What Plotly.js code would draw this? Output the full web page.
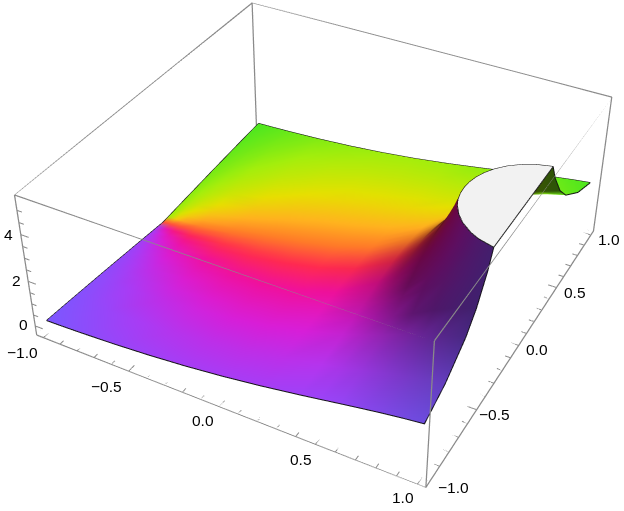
<!DOCTYPE html>
<html><head><meta charset="utf-8">
<script src="https://cdn.plot.ly/plotly-3.0.1.min.js"></script>
<style>html,body{margin:0;padding:0;background:#fff;overflow:hidden;width:624px;height:511px}#w{position:absolute;left:0;top:0;width:624px;height:511px;overflow:hidden}#p{position:absolute;left:-372px;top:-380.5px;width:1400px;height:1189px}</style></head>
<body><div id="w"><div id="p"></div></div>
<script>
const yPos=[0,0.05,0.1,0.15,0.2,0.25,0.3,0.325,0.35,0.4,0.5,0.6,0.8,1];
const xCommon=[-1,-0.95,-0.9,-0.8,-0.6,-0.4,-0.2,0,0.2,0.4,0.5,0.6];
const xTail=[
[0.627,0.653,0.68,0.706],
[0.627,0.655,0.682,0.7095],
[0.63,0.66,0.69,0.72],
[0.635,0.67,0.704,0.739],
[0.642,0.684,0.726,0.7675],
[0.652,0.704,0.757,0.809],
[0.668,0.736,0.803,0.871],
[0.679,0.759,0.838,0.9175],
[0.7,0.8,0.9,1],[0.7,0.8,0.9,1],[0.7,0.8,0.9,1],[0.7,0.8,0.9,1],[0.7,0.8,0.9,1],[0.7,0.8,0.9,1]];
const height=[
[0,0.026,0.053,0.111,0.25,0.429,0.667,1,1.5,2.333,3,4,4.355,4.764,5.24,5.8],
[0.025,0.036,0.059,0.115,0.252,0.43,0.667,1,1.498,2.327,2.987,3.971,4.326,4.75,5.228,5.8],
[0.05,0.057,0.074,0.124,0.257,0.433,0.67,1,1.494,2.307,2.948,3.888,4.26,4.693,5.197,5.8],
[0.075,0.081,0.095,0.138,0.266,0.439,0.673,1,1.486,2.276,2.888,3.762,4.161,4.626,5.155,5.8],
[0.1,0.105,0.117,0.156,0.277,0.447,0.678,1,1.475,2.236,2.81,3.606,4.033,4.536,5.123,5.8],
[0.124,0.13,0.141,0.176,0.291,0.457,0.684,1,1.462,2.188,2.72,3.433,3.899,4.445,5.091,5.8],
[0.148,0.154,0.164,0.198,0.307,0.469,0.691,1,1.448,2.134,2.623,3.256,3.788,4.408,5.093,5.8],
[0.16,0.166,0.176,0.209,0.316,0.475,0.695,1,1.44,2.106,2.574,3.168,3.743,4.421,5.141,5.8],
[0.172,0.179,0.188,0.22,0.325,0.481,0.699,1,1.431,2.078,2.524,3.082,3.765,4.549,5.307,5.8],
[0.196,0.203,0.212,0.243,0.343,0.495,0.707,1,1.414,2.019,2.424,2.915,3.493,4.123,4.709,5.099],
[0.243,0.25,0.26,0.288,0.382,0.525,0.726,1,1.378,1.903,2.236,2.618,3.039,3.469,3.853,4.123],
[0.287,0.295,0.305,0.333,0.422,0.557,0.745,1,1.342,1.795,2.068,2.37,2.687,3,3.276,3.48],
[0.371,0.38,0.391,0.419,0.5,0.62,0.785,1,1.275,1.612,1.802,2,2.199,2.389,2.557,2.693],
[0.447,0.457,0.468,0.495,0.571,0.678,0.82,1,1.22,1.475,1.612,1.752,1.889,2.019,2.136,2.236]];
const phase=[
[0,0,0,0,0,0,0,0,0,0,0,0,0,0,0,0],
[1.596,0.811,0.49,0.273,0.156,0.119,0.104,0.1,0.104,0.119,0.133,0.156,0.164,0.174,0.186,0.2],
[1.621,1.158,0.838,0.519,0.308,0.237,0.208,0.199,0.208,0.237,0.264,0.308,0.325,0.346,0.371,0.401],
[1.646,1.326,1.062,0.727,0.452,0.352,0.31,0.298,0.31,0.352,0.391,0.452,0.482,0.516,0.557,0.608],
[1.671,1.428,1.212,0.896,0.588,0.464,0.41,0.395,0.41,0.464,0.513,0.588,0.631,0.683,0.746,0.823],
[1.695,1.501,1.321,1.034,0.714,0.572,0.508,0.49,0.508,0.572,0.629,0.714,0.773,0.847,0.941,1.056],
[1.72,1.558,1.406,1.148,0.829,0.675,0.604,0.583,0.604,0.675,0.738,0.829,0.913,1.02,1.155,1.324],
[1.732,1.583,1.442,1.198,0.883,0.725,0.65,0.629,0.65,0.725,0.79,0.883,0.983,1.116,1.284,1.49],
[1.744,1.607,1.475,1.244,0.934,0.773,0.696,0.674,0.696,0.773,0.84,0.934,1.065,1.244,1.475,1.744],
[1.768,1.649,1.533,1.326,1.03,0.866,0.785,0.761,0.785,0.866,0.935,1.03,1.158,1.326,1.533,1.768],
[1.816,1.722,1.631,1.461,1.199,1.038,0.953,0.927,0.953,1.038,1.107,1.199,1.317,1.461,1.631,1.816],
[1.862,1.786,1.712,1.571,1.342,1.19,1.107,1.081,1.107,1.19,1.257,1.342,1.446,1.571,1.712,1.862],
[1.951,1.898,1.845,1.744,1.571,1.446,1.373,1.35,1.373,1.446,1.502,1.571,1.652,1.744,1.845,1.951],
[2.034,1.995,1.956,1.881,1.749,1.651,1.591,1.571,1.591,1.651,1.695,1.749,1.811,1.881,1.956,2.034]];
const capTop=5.8;
const capEdgeY=0.35;
const xyTicks=[-1,-0.9,-0.8,-0.7,-0.6,-0.5,-0.4,-0.3,-0.2,-0.1,0,0.1,0.2,0.3,0.4,0.5,0.6,0.7,0.8,0.9,1];
const xyLabelVals=[-1,-0.5,0,0.5,1];
const xyLabelText=['\u22121.0','\u22120.5','0.0','0.5','1.0'];
const zTicks=[0,0.5,1,1.5,2,2.5,3,3.5,4,4.5,5];
const zLabelVals=[0,2,4];
const zLabelText=['0','2','4'];
const zTickLift=0.3;
const xRange=[-1.04,1.04],yRange=[-1.04,1.04],zRange=[-0.12,5.92];
const phaseStops=[[-2.05,'#7a58ff'],[-1.57,'#a83cf5'],[-1.1,'#d81ed8'],[-0.6,'#f0109c'],[-0.2,'#ff2a50'],[0.2,'#ff7a28'],[0.6,'#ffb41e'],[1.05,'#e6e000'],[1.57,'#a4ee0c'],[2.05,'#48e620']];
const eye={x:1.3,y:-2.4,z:2};
const aspect={x:1,y:1,z:0.4};
const lightDir=[0.346,0.691,0.634];
const shadeMin=0.44,shadeGain=1.25,backShade=0.36;

const n=yPos.length;
const rowIdx=[];for(let i=n-1;i>0;i--)rowIdx.push([i,-1]);for(let i=0;i<n;i++)rowIdx.push([i,1]);
const X=rowIdx.map(([i])=>xCommon.concat(xTail[i]));
const Y=rowIdx.map(([i,s],r)=>X[r].map(()=>s*yPos[i]));
const Z=rowIdx.map(([i])=>height[i]);
const C=rowIdx.map(([i,s])=>phase[i].map(v=>s*v));

const rgbStops=phaseStops.map(([v,c])=>[v,parseInt(c.slice(1,3),16),parseInt(c.slice(3,5),16),parseInt(c.slice(5,7),16)]);
function phaseRgb(v){
 let k=0;while(k<rgbStops.length-2&&v>rgbStops[k+1][0])k++;
 const a=rgbStops[k],b=rgbStops[k+1],t=Math.max(0,Math.min(1,(v-a[0])/(b[0]-a[0])));
 return [1,2,3].map(q=>a[q]+(b[q]-a[q])*t);
}
const sx=aspect.x/(xRange[1]-xRange[0]),sy=aspect.y/(yRange[1]-yRange[0]),sz=aspect.z/(zRange[1]-zRange[0]);
const eyeLen=Math.hypot(eye.x,eye.y,eye.z),view=[eye.x/eyeLen,eye.y/eyeLen,eye.z/eyeLen];
const R=X.length,K=X[0].length;
function shadeAt(r,c){
 const c0=Math.max(0,c-1),c1=Math.min(K-1,c+1),r0=Math.max(0,r-1),r1=Math.min(R-1,r+1);
 const u=[(X[r][c1]-X[r][c0])*sx,(Y[r][c1]-Y[r][c0])*sy,(Z[r][c1]-Z[r][c0])*sz];
 const v=[(X[r1][c]-X[r0][c])*sx,(Y[r1][c]-Y[r0][c])*sy,(Z[r1][c]-Z[r0][c])*sz];
 let N=[u[1]*v[2]-u[2]*v[1],u[2]*v[0]-u[0]*v[2],u[0]*v[1]-u[1]*v[0]];
 if(N[2]<0)N=N.map(q=>-q);
 const len=Math.hypot(N[0],N[1],N[2])||1;N=N.map(q=>q/len);
 if(N[0]*view[0]+N[1]*view[1]+N[2]*view[2]<0)return backShade;
 const nl=Math.max(0,N[0]*lightDir[0]+N[1]*lightDir[1]+N[2]*lightDir[2]);
 return Math.min(1,shadeMin+shadeGain*nl);
}
const mx=[],my=[],mz=[],mc=[],ti=[],tj=[],tk=[];
for(let r=0;r<R;r++)for(let c=0;c<K;c++){
 mx.push(X[r][c]);my.push(Y[r][c]);mz.push(Z[r][c]);
 const s=shadeAt(r,c),rgb=phaseRgb(C[r][c]).map(q=>Math.round(q*s));
 mc.push('rgb('+rgb.join(',')+')');
}
for(let r=0;r<R-1;r++)for(let c=0;c<K-1;c++){
 const a=r*K+c,b=a+1,d=a+K,e=d+1;
 ti.push(a,a);tj.push(b,e);tk.push(e,d);
}

const capRows=rowIdx.filter(([i])=>yPos[i]<=capEdgeY);
const capX=capRows.map(([i])=>[xTail[i][3],1]);
const capY=capRows.map(([i,s])=>[s*yPos[i],s*yPos[i]]);
const capZ=capRows.map(()=>[capTop,capTop]);

const L=[];
const last=R-1,lastC=K-1;
function pt(r,c){L.push([X[r][c],Y[r][c],Z[r][c]]);}
for(let c=0;c<=lastC;c++)pt(0,c);
for(let r=0;r<=last;r++)pt(r,lastC);
for(let c=lastC;c>=0;c--)pt(last,c);
for(let r=last;r>=0;r--)pt(r,0);
const S=[[1,-capEdgeY,capTop],[1,capEdgeY,capTop]];

const B=[];
const [x0,x1]=xRange,[y0,y1]=yRange,[z0,z1]=zRange;
const ring=[[x0,y0],[x1,y0],[x1,y1],[x0,y1],[x0,y0]];
ring.forEach(p=>B.push([p[0],p[1],z0]));B.push([null,null,null]);
ring.forEach(p=>B.push([p[0],p[1],z1]));B.push([null,null,null]);
ring.slice(0,4).forEach(p=>{B.push([p[0],p[1],z0]);B.push([p[0],p[1],z1]);B.push([null,null,null]);});

const T=[];
const tickLen=(major)=>major?0.045:0.028;
xyTicks.forEach(v=>{const m=xyLabelVals.some(q=>Math.abs(q-v)<1e-9),d=tickLen(m);
 T.push([v,y0,z0],[v,y0+d,z0],[null,null,null]);
 T.push([x1,v,z0],[x1-d,v,z0],[null,null,null]);});
zTicks.forEach(v=>{const m=zLabelVals.indexOf(v)>=0,d=tickLen(m);
 T.push([x0,y0,v+zTickLift],[x0+d,y0,v+zTickLift],[null,null,null]);});

const ann=[];
const font={family:'Liberation Sans, Arial, sans-serif',size:15.5,color:'#000'};
const xLabelDx=[-21,-22,-16.5,-14,-14],xLabelDy=[-15,-15,-14,-15,-13];
const yLabelDx=[24,18,18,18,18],yLabelDy=[-6,-5,-4,-5,-4];
xyLabelVals.forEach((v,i)=>ann.push({x:v,y:y0,z:z0,text:xyLabelText[i],showarrow:false,xshift:xLabelDx[i],yshift:xLabelDy[i],font:font}));
xyLabelVals.forEach((v,i)=>ann.push({x:x1,y:v,z:z0,text:xyLabelText[i],showarrow:false,xshift:yLabelDx[i],yshift:yLabelDy[i],font:font}));
zLabelVals.forEach((v,i)=>ann.push({x:x0,y:y0,z:v,text:zLabelText[i],showarrow:false,xshift:-13,yshift:7.5,font:font}));

const axisBase={showbackground:false,showgrid:false,zeroline:false,showspikes:false,showline:true,linecolor:'#8a8a8a',linewidth:1.2,mirror:'all',ticks:'',ticklen:0,tickmode:'array',tickvals:[],showticklabels:false,title:{text:''}};
const data=[
{type:'mesh3d',x:mx,y:my,z:mz,i:ti,j:tj,k:tk,vertexcolor:mc,hoverinfo:'skip',flatshading:false,
 lighting:{ambient:1,diffuse:0,specular:0,roughness:1,fresnel:0}},
{type:'surface',x:capX,y:capY,z:capZ,surfacecolor:capZ,colorscale:[[0,'#f2f2f2'],[1,'#f2f2f2']],showscale:false,hoverinfo:'skip',
 lighting:{ambient:1,diffuse:0,specular:0,roughness:1,fresnel:0}},
{type:'scatter3d',mode:'lines',x:L.map(p=>p[0]),y:L.map(p=>p[1]),z:L.map(p=>p[2]),line:{color:'#111',width:2},hoverinfo:'skip'},
{type:'scatter3d',mode:'lines',x:S.map(p=>p[0]),y:S.map(p=>p[1]),z:S.map(p=>p[2]),line:{color:'#111',width:2},hoverinfo:'skip'},
{type:'scatter3d',mode:'lines',x:B.map(p=>p[0]),y:B.map(p=>p[1]),z:B.map(p=>p[2]),connectgaps:false,line:{color:'#8a8a8a',width:2.5},hoverinfo:'skip'},
{type:'scatter3d',mode:'lines',x:T.map(p=>p[0]),y:T.map(p=>p[1]),z:T.map(p=>p[2]),connectgaps:false,line:{color:'#8a8a8a',width:2},hoverinfo:'skip'}
];
const layout={width:1400,height:1189,margin:{l:0,r:0,t:0,b:0},paper_bgcolor:'#fff',showlegend:false,
 scene:{domain:{x:[0,1],y:[0,1]},aspectmode:'manual',aspectratio:aspect,annotations:ann,
  camera:{eye:eye,up:{x:0,y:0,z:1},center:{x:0,y:0,z:0}},
  xaxis:Object.assign({},axisBase,{range:xRange}),
  yaxis:Object.assign({},axisBase,{range:yRange}),
  zaxis:Object.assign({},axisBase,{range:zRange})}};
Plotly.newPlot('p',data,layout,{displayModeBar:false});
</script></body></html>
